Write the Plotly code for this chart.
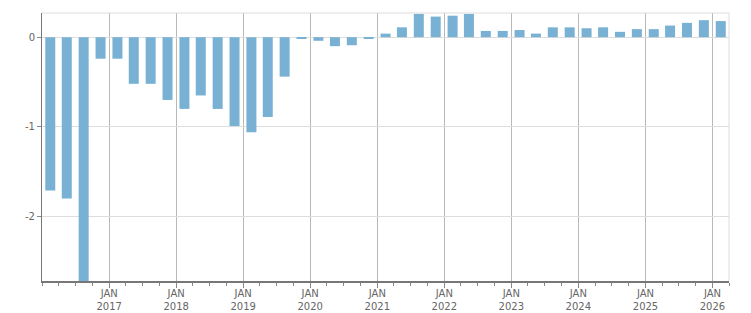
import plotly.graph_objects as go

quarters = [
    "2016-02-15", "2016-05-15", "2016-08-15", "2016-11-15",
    "2017-02-15", "2017-05-15", "2017-08-15", "2017-11-15",
    "2018-02-15", "2018-05-15", "2018-08-15", "2018-11-15",
    "2019-02-15", "2019-05-15", "2019-08-15", "2019-11-15",
    "2020-02-15", "2020-05-15", "2020-08-15", "2020-11-15",
    "2021-02-15", "2021-05-15", "2021-08-15", "2021-11-15",
    "2022-02-15", "2022-05-15", "2022-08-15", "2022-11-15",
    "2023-02-15", "2023-05-15", "2023-08-15", "2023-11-15",
    "2024-02-15", "2024-05-15", "2024-08-15", "2024-11-15",
    "2025-02-15", "2025-05-15", "2025-08-15", "2025-11-15",
    "2026-02-15",
]
values = [
    -1.71, -1.80, -2.90, -0.24,
    -0.24, -0.52, -0.52, -0.70,
    -0.80, -0.65, -0.80, -0.99,
    -1.06, -0.89, -0.44, -0.02,
    -0.04, -0.10, -0.09, -0.02,
    0.04, 0.11, 0.26, 0.23,
    0.24, 0.26, 0.07, 0.07,
    0.08, 0.04, 0.11, 0.11,
    0.10, 0.11, 0.06, 0.09,
    0.09, 0.13, 0.16, 0.19,
    0.18,
]
tick_dates = [f"{y}-01-01" for y in range(2017, 2027)]
tick_labels = [f"JAN<br>{y}" for y in range(2017, 2027)]
y_ticks = [0, -1, -2]

bar_w_ms = 54.5 * 86400000

fig = go.Figure(go.Bar(
    x=quarters, y=values, width=[bar_w_ms] * len(values),
    marker=dict(color="#78b1d3", line=dict(width=0)),
))

font = dict(family="DejaVu Sans", size=10, color="#666666")

fig.update_layout(
    width=751, height=313,
    margin=dict(l=42, r=22, t=13, b=32),
    paper_bgcolor="white", plot_bgcolor="white",
    showlegend=False,
    font=font,
    xaxis=dict(
        type="date",
        range=["2016-01-01", "2026-04-01"],
        tickmode="array", tickvals=tick_dates, ticktext=tick_labels,
        showgrid=True, gridcolor="#b8b8b8", gridwidth=1,
        ticks="outside", ticklen=5, tickcolor="#888888", tickwidth=1,
        ticklabelstandoff=-3,
        showline=True, linecolor="#777777", linewidth=2,
        minor=dict(tickmode="linear", tick0="2016-01-01", dtick="M3",
                   ticks="outside", ticklen=3, tickcolor="#888888", showgrid=False),
        tickfont=font,
        zeroline=False,
        automargin=False,
    ),
    yaxis=dict(
        range=[-2.72, 0.27],
        tickmode="array", tickvals=y_ticks, ticktext=[str(v) for v in y_ticks],
        showgrid=True, gridcolor="#dddddd", gridwidth=1,
        ticks="outside", ticklen=4, tickcolor="#888888",
        showline=True, linecolor="#777777", linewidth=1,
        zeroline=False,
        tickfont=font,
        automargin=False,
    ),
    shapes=[
        dict(type="line", xref="paper", yref="paper", x0=0, x1=1, y0=1, y1=1,
             line=dict(color="#dddddd", width=1)),
        dict(type="line", xref="paper", yref="paper", x0=1, x1=1, y0=0, y1=1,
             line=dict(color="#dddddd", width=1)),
    ],
)

fig.write_html("out.html")
